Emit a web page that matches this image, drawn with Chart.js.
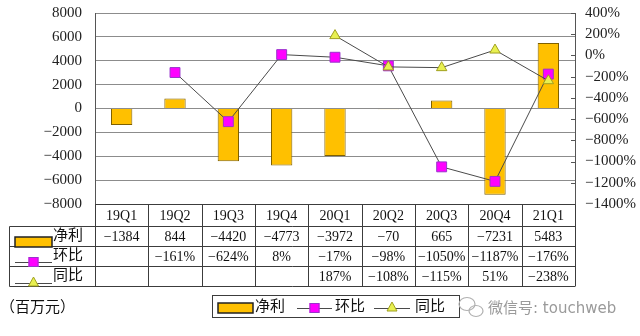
<!DOCTYPE html>
<html>
<head>
<meta charset="utf-8">
<script src="https://cdn.jsdelivr.net/npm/chart.js@4/dist/chart.umd.min.js"></script>
<style>
  body { margin: 0; background: #fff; }
  canvas { display: block; }
</style>
</head>
<body>
<canvas id="myChart" width="640" height="336"></canvas>
<script>
// quarterly net profit (百万元) with QoQ / YoY change in %
const quarters = ["19Q1", "19Q2", "19Q3", "19Q4", "20Q1", "20Q2", "20Q3", "20Q4", "21Q1"];
const netProfit = [-1384, 844, -4420, -4773, -3972, -70, 665, -7231, 5483];
const qoq = [null, -161, -624, 8, -17, -98, -1050, -1187, -176];
const yoy = [null, null, null, null, 187, -108, -115, 51, -238];
const seriesNames = ["净利", "环比", "同比"];

const leftRange = { min: -8000, max: 8000, step: 2000 };
const rightRange = { min: -1400, max: 400, step: 200 };

const FONT = '"Liberation Serif", "Noto Sans CJK SC", serif';
const BAR_FILL = "#FFC000";
const BAR_EDGE = "#7F6000";
const LINE_COLOR = "#4a4a4a";
const SQ_FILL = "#FF00FF";
const SQ_EDGE = "#9933CC";
const TRI_FILL = "#E8F050";
const TRI_EDGE = "#A0A020";
const GRID = "#8c8c8c";
const TABLE_LINE = "#3c3c3c";

const fmt = (v) => String(v).replace("-", "\u2212");
const pct = (v) => (v === null ? "" : fmt(v) + "%");

// fixed axis widths, no extra room for the end labels
const fixWidth = (w) => (scale) => {
  scale.width = w;
  scale.paddingTop = 0;
  scale.paddingBottom = 0;
};

// small legend keys, used by the table and by the bottom legend
const drawSquare = (ctx, cx, cy) => {
  ctx.fillStyle = SQ_FILL;
  ctx.strokeStyle = SQ_EDGE;
  ctx.fillRect(cx - 5, cy - 5, 10, 10);
  ctx.strokeRect(cx - 4.5, cy - 4.5, 9, 9);
};
const drawTriangle = (ctx, cx, cy) => {
  ctx.fillStyle = TRI_FILL;
  ctx.strokeStyle = TRI_EDGE;
  ctx.beginPath();
  ctx.moveTo(cx, cy - 6);
  ctx.lineTo(cx + 5, cy + 3);
  ctx.lineTo(cx - 5, cy + 3);
  ctx.closePath();
  ctx.fill();
  ctx.stroke();
};
const drawKey = (ctx, kind, x0, x1, y) => {
  ctx.lineWidth = 1;
  if (kind === 0) {
    ctx.fillStyle = BAR_FILL;
    ctx.fillRect(x0, y - 5, x1 - x0, 10);
    ctx.strokeStyle = "#222";
    ctx.lineWidth = 1.5;
    ctx.strokeRect(x0, y - 5, x1 - x0, 10);
    return;
  }
  ctx.strokeStyle = LINE_COLOR;
  ctx.beginPath();
  ctx.moveTo(x0, Math.round(y) + 0.5);
  ctx.lineTo(x1, Math.round(y) + 0.5);
  ctx.stroke();
  const cx = (x0 + x1) / 2;
  if (kind === 1) drawSquare(ctx, cx, y);
  else drawTriangle(ctx, cx, y);
};

const tablePlugin = {
  id: "dataTable",
  afterDraw(chart) {
    const ctx = chart.ctx;
    const x = chart.scales.x;
    const y2 = chart.scales.y2;
    const colW = (x.right - x.left) / quarters.length;
    const rows = [204.5, 226.5, 246.5, 266.5, 286.5];
    const keyLeft = 9.5;

    ctx.save();

    // inner tick marks on the right axis
    ctx.strokeStyle = "#555";
    ctx.lineWidth = 1;
    y2.ticks.forEach((t) => {
      const py = Math.round(y2.getPixelForValue(t.value)) + 0.5;
      ctx.beginPath();
      ctx.moveTo(x.right - 4, py);
      ctx.lineTo(x.right, py);
      ctx.stroke();
    });

    // table grid
    ctx.strokeStyle = TABLE_LINE;
    ctx.beginPath();
    ctx.moveTo(x.left, rows[0]);
    ctx.lineTo(x.right, rows[0]);
    for (let r = 1; r < rows.length; r++) {
      ctx.moveTo(keyLeft, rows[r]);
      ctx.lineTo(x.right, rows[r]);
    }
    ctx.moveTo(keyLeft, rows[1]);
    ctx.lineTo(keyLeft, rows[4]);
    for (let i = 0; i <= quarters.length; i++) {
      const px = Math.round(x.left + i * colW) + 0.5;
      ctx.moveTo(px, rows[0]);
      ctx.lineTo(px, rows[4]);
    }
    ctx.stroke();

    // cell text
    ctx.fillStyle = "#111";
    ctx.textAlign = "center";
    ctx.textBaseline = "middle";
    ctx.font = "14px " + FONT;
    const cols = [quarters, netProfit.map(fmt), qoq.map(pct), yoy.map(pct)];
    cols.forEach((vals, r) => {
      const cy = (rows[r] + rows[r + 1]) / 2 + 1;
      vals.forEach((v, i) => {
        ctx.fillText(v, x.getPixelForValue(i), cy);
      });
    });

    // row headers with keys
    ctx.font = "15px " + FONT;
    ctx.textAlign = "left";
    const keyY = [242, 262, 283];
    seriesNames.forEach((name, r) => {
      drawKey(ctx, r, 15, 52, keyY[r]);
      ctx.fillStyle = "#111";
      ctx.fillText(name, 53, (rows[r + 1] + rows[r + 2]) / 2);
    });

    // bottom legend box
    ctx.strokeStyle = TABLE_LINE;
    ctx.lineWidth = 1;
    ctx.strokeRect(212.5, 295.5, 247, 22);
    const legendKeys = [[218, 253, 276], [297, 332, 335], [374, 410, 415]];
    legendKeys.forEach((k, i) => {
      drawKey(ctx, i, k[0], k[1], 308);
      ctx.fillStyle = "#111";
      ctx.font = "15px " + FONT;
      ctx.fillText(seriesNames[i], i === 0 ? 255 : k[2], 307);
    });

    // unit note
    ctx.fillText("（百万元）", 0, 308);

    // watermark
    ctx.strokeStyle = "#b0b0b0";
    ctx.lineWidth = 1.2;
    ctx.beginPath();
    ctx.ellipse(467, 304, 8, 6.5, 0, 0, Math.PI * 2);
    ctx.stroke();
    ctx.beginPath();
    ctx.ellipse(476, 311, 7, 5.5, 0, 0, Math.PI * 2);
    ctx.stroke();
    ctx.fillStyle = "#9a9a9a";
    ctx.font = '15px "DejaVu Sans", "Noto Sans CJK SC", sans-serif';
    ctx.fillText("微信号: touchweb", 488, 309);

    ctx.restore();
  },
};

const ctx = document.getElementById("myChart").getContext("2d");
new Chart(ctx, {
  type: "bar",
  data: {
    labels: quarters,
    datasets: [
      {
        label: seriesNames[0],
        data: netProfit,
        yAxisID: "y",
        backgroundColor: BAR_FILL,
        borderColor: BAR_EDGE,
        borderWidth: 1,
        barPercentage: 0.4,
        categoryPercentage: 1,
        order: 3,
      },
      {
        type: "line",
        label: seriesNames[1],
        data: qoq,
        yAxisID: "y2",
        borderColor: LINE_COLOR,
        borderWidth: 1,
        pointStyle: "rect",
        pointRadius: 7,
        pointBackgroundColor: SQ_FILL,
        pointBorderColor: SQ_EDGE,
        pointBorderWidth: 1,
        order: 2,
      },
      {
        type: "line",
        label: seriesNames[2],
        data: yoy,
        yAxisID: "y2",
        borderColor: LINE_COLOR,
        borderWidth: 1,
        pointStyle: "triangle",
        pointRadius: 6,
        pointBackgroundColor: TRI_FILL,
        pointBorderColor: TRI_EDGE,
        pointBorderWidth: 1,
        order: 1,
      },
    ],
  },
  options: {
    responsive: false,
    animation: false,
    layout: { padding: { top: 13, bottom: 132, left: 0, right: 0 } },
    plugins: {
      legend: { display: false },
      tooltip: { enabled: false },
    },
    scales: {
      x: { display: false },
      y: {
        position: "left",
        min: leftRange.min,
        max: leftRange.max,
        afterFit: fixWidth(95),
        ticks: {
          stepSize: leftRange.step,
          autoSkip: false,
          padding: 13,
          color: "#222",
          font: { family: FONT, size: 15 },
          callback: (v) => fmt(v),
        },
        grid: { color: GRID, drawTicks: false },
        border: { display: true, color: "#555" },
      },
      y2: {
        position: "right",
        min: rightRange.min,
        max: rightRange.max,
        afterFit: fixWidth(65),
        ticks: {
          stepSize: rightRange.step,
          autoSkip: false,
          padding: 10,
          color: "#222",
          font: { family: FONT, size: 15 },
          callback: (v) => fmt(v) + "%",
        },
        grid: { drawOnChartArea: false, drawTicks: false },
        border: { display: true, color: "#555" },
      },
    },
  },
  plugins: [tablePlugin],
});
</script>
</body>
</html>
